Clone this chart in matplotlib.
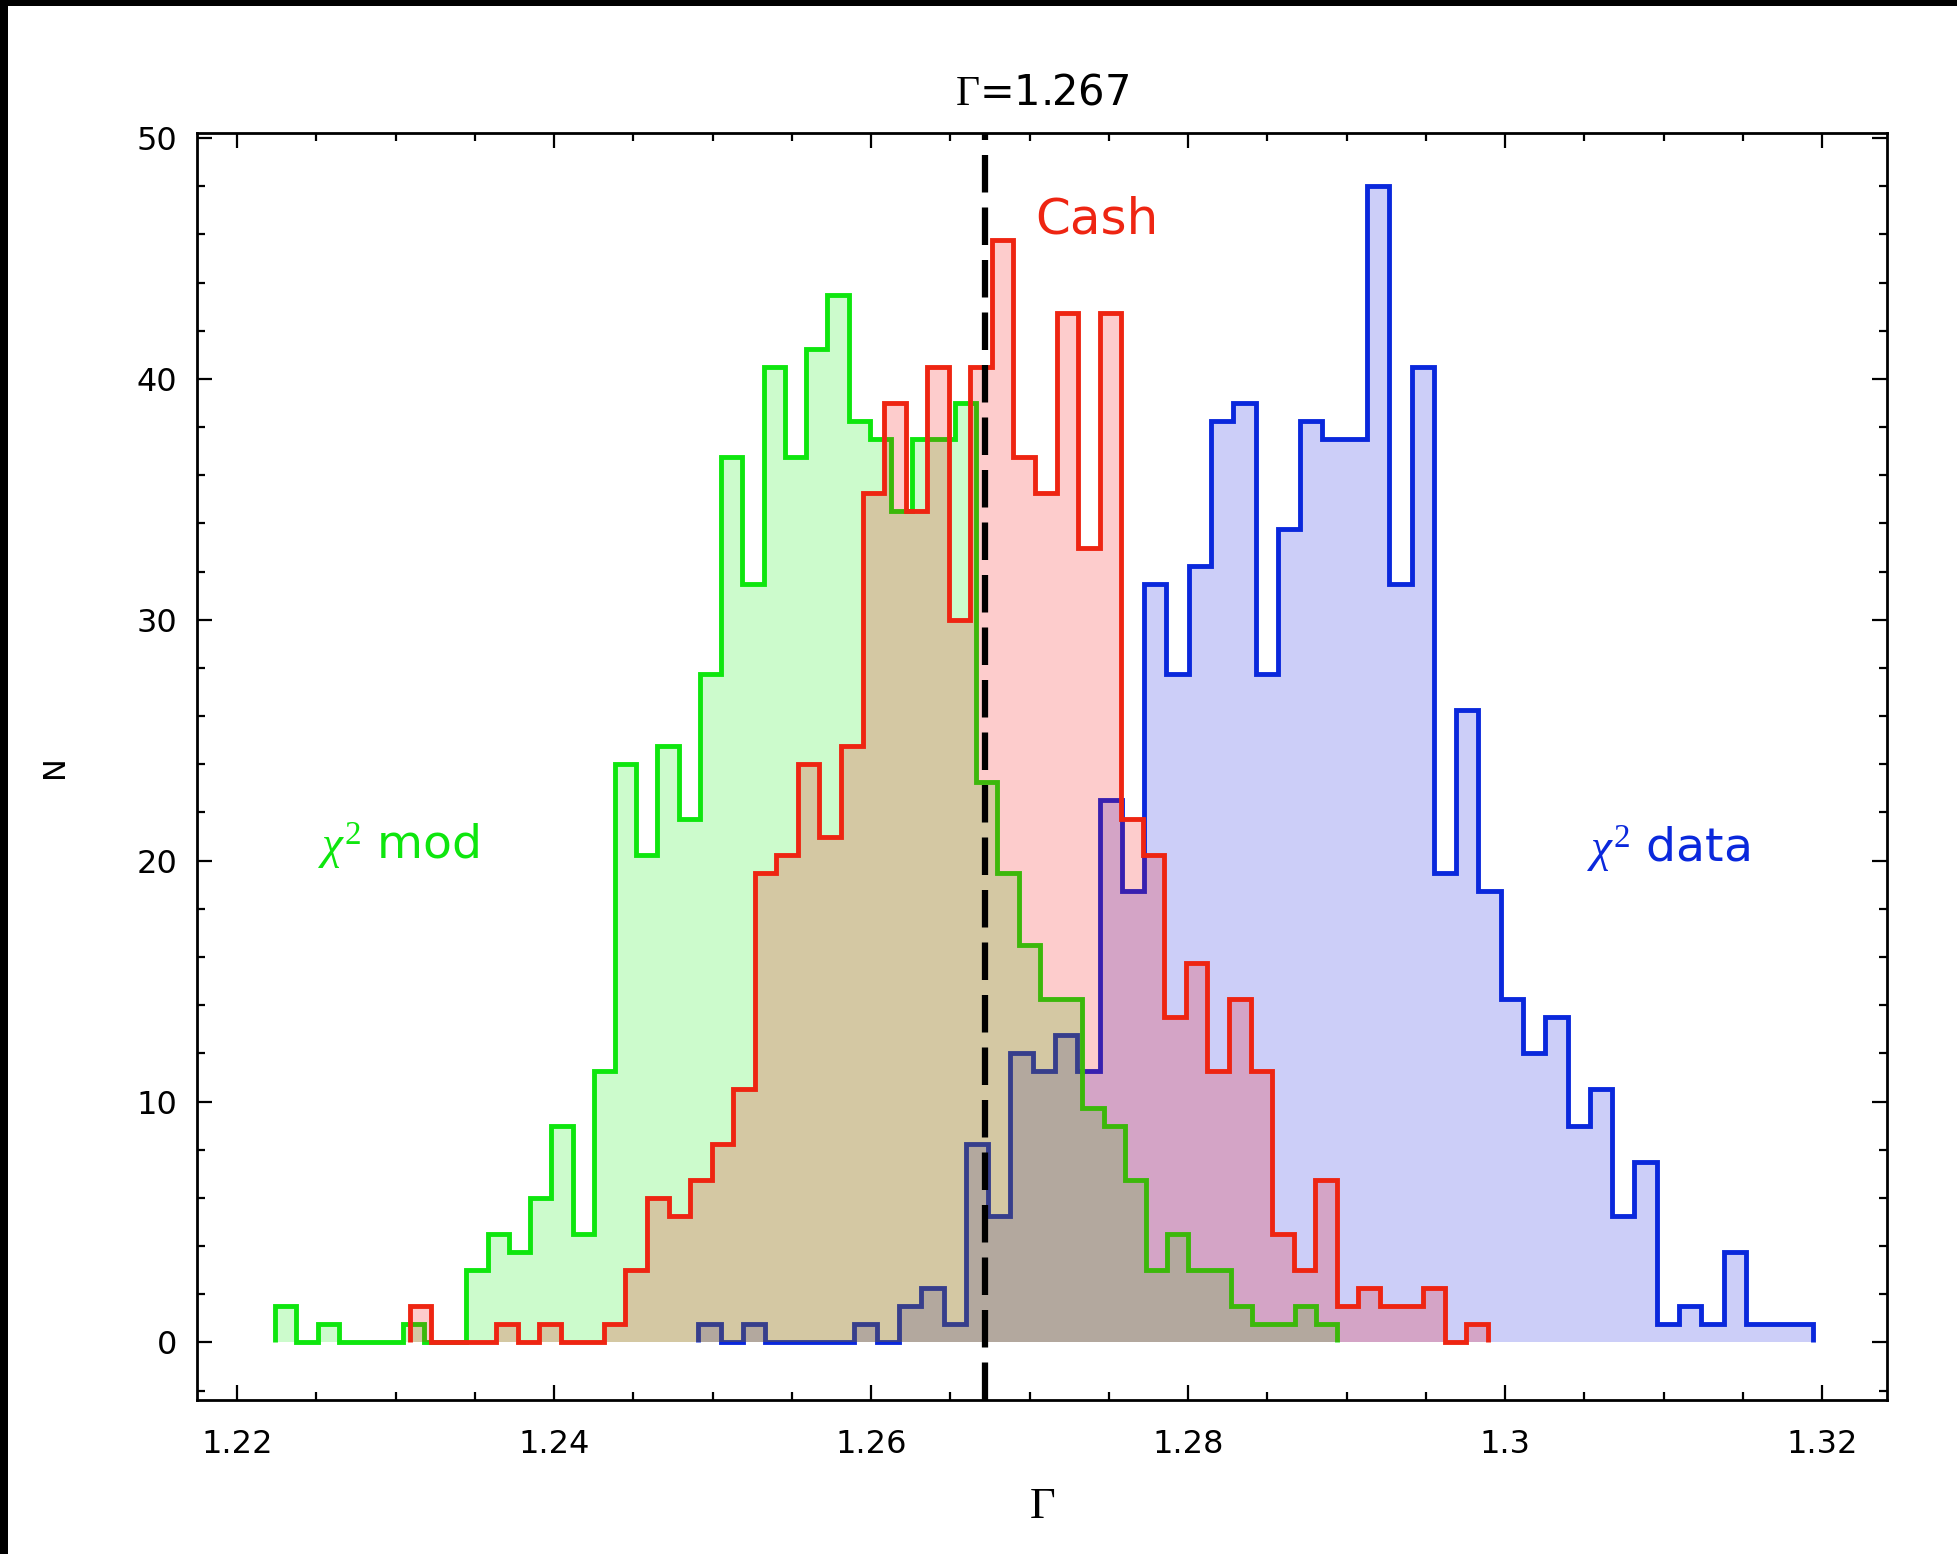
import numpy as np
import matplotlib
matplotlib.use("Agg")
import matplotlib.pyplot as plt
from matplotlib.patches import Rectangle
from matplotlib.ticker import FixedLocator, MultipleLocator

plt.rcParams['mathtext.fontset'] = 'custom'
plt.rcParams['mathtext.rm'] = 'Liberation Serif'
plt.rcParams['mathtext.it'] = 'Liberation Serif:italic'

# each histogram has 50 bins between its own min and max
green_range = (1.2224, 1.2894)
red_range = (1.2309, 1.2989)
blue_range = (1.2491, 1.3194)

green_counts = [1.5, 0, 0.75, 0, 0, 0, 0.75, 0, 0, 3.0,
                4.5, 3.75, 6.0, 9.0, 4.5, 11.25, 24.0, 20.25, 24.75, 21.75,
                27.75, 36.75, 31.5, 40.5, 36.75, 41.25, 43.5, 38.25, 37.5, 34.5,
                37.5, 37.5, 39.0, 23.25, 19.5, 16.5, 14.25, 14.25, 9.75, 9.0,
                6.75, 3.0, 4.5, 3.0, 3.0, 1.5, 0.75, 0.75, 1.5, 0.75]

red_counts = [1.5, 0, 0, 0, 0.75, 0, 0.75, 0, 0, 0.75,
              3.0, 6.0, 5.25, 6.75, 8.25, 10.5, 19.5, 20.25, 24.0, 21.0,
              24.75, 35.25, 39.0, 34.5, 40.5, 30.0, 40.5, 45.75, 36.75, 35.25,
              42.75, 33.0, 42.75, 21.75, 20.25, 13.5, 15.75, 11.25, 14.25, 11.25,
              4.5, 3.0, 6.75, 1.5, 2.25, 1.5, 1.5, 2.25, 0, 0.75]

blue_counts = [0.75, 0, 0.75, 0, 0, 0, 0, 0.75, 0, 1.5,
               2.25, 0.75, 8.25, 5.25, 12.0, 11.25, 12.75, 11.25, 22.5, 18.75,
               31.5, 27.75, 32.25, 38.25, 39.0, 27.75, 33.75, 38.25, 37.5, 37.5,
               48.0, 31.5, 40.5, 19.5, 26.25, 18.75, 14.25, 12.0, 13.5, 9.0,
               10.5, 5.25, 7.5, 0.75, 1.5, 0.75, 3.75, 0.75, 0.75, 0.75]

gamma_best = 1.2672
x_ticks = [1.22, 1.24, 1.26, 1.28, 1.30, 1.32]
x_ticklabels = ["1.22", "1.24", "1.26", "1.28", "1.3", "1.32"]
y_ticks = [0, 10, 20, 30, 40, 50]
y_ticklabels = ["0", "10", "20", "30", "40", "50"]

GREEN = '#0ee60e'
RED = '#ee2512'
BLUE = '#0a28dc'

W, H = 1957, 1554
fig = plt.figure(figsize=(W / 100, H / 100), dpi=100)
fig.patch.set_facecolor('black')
# white page with a thin black frame on the top and left edge
fig.add_artist(Rectangle((8 / W, 0), 1, 1 - 6 / H, transform=fig.transFigure,
                         facecolor='white', edgecolor='none', zorder=-10))

ax = fig.add_axes([197 / W, 1 - 1400 / H, (1887 - 197) / W, (1400 - 132.7) / H])

# blue first, then green, then red on top (semi transparent fills)
layers = [(blue_counts, blue_range, BLUE, (0, 0.04, 0.88)),
          (green_counts, green_range, GREEN, (0, 0.92, 0)),
          (red_counts, red_range, RED, (0.96, 0, 0))]
z = 1
for counts, rng, line_c, fill_c in layers:
    edges = np.linspace(rng[0], rng[1], len(counts) + 1)
    ax.stairs(counts, edges, fill=True, color=fill_c, alpha=0.2,
              linewidth=0, zorder=z)
    st = ax.stairs(counts, edges, baseline=0, color=line_c, linewidth=3.5,
                   zorder=z + 0.5)
    st.set_joinstyle('miter')
    z += 1

ax.set_xlim(1.21747, 1.32409)
ax.set_ylim(-2.39, 50.22)

ax.plot([gamma_best, gamma_best], [-2.39, 50.22], color='black', linewidth=4.5,
        linestyle=(0, (6.0, 2.4)), zorder=10, solid_capstyle='butt')

ax.xaxis.set_major_locator(FixedLocator(x_ticks))
ax.set_xticklabels(x_ticklabels)
ax.xaxis.set_minor_locator(MultipleLocator(0.005))
ax.yaxis.set_major_locator(FixedLocator(y_ticks))
ax.set_yticklabels(y_ticklabels)
ax.yaxis.set_minor_locator(MultipleLocator(2))

ax.tick_params(which='both', direction='in', top=True, right=True, width=1.6)
ax.tick_params(which='major', length=11)
ax.tick_params(which='minor', length=6)
ax.tick_params(axis='x', labelsize=23, pad=21)
ax.tick_params(axis='y', labelsize=23, pad=14)
for sp in ax.spines.values():
    sp.set_linewidth(2.0)

ax.set_title(r'$\Gamma$=1.267', fontsize=30, pad=20)
ax.set_xlabel(r'$\Gamma$', fontsize=32)
ax.xaxis.set_label_coords(0.5, -0.066)
ax.set_ylabel('N', fontsize=22)
ax.yaxis.set_label_coords(-0.076, 0.5)

ax.text(1.27034, 46.04, 'Cash', color=RED, fontsize=36, ha='left', va='baseline', zorder=12)
ax.text(1.22512, 20.06, r'$\chi^2$ mod', color=GREEN, fontsize=34, ha='left', va='baseline', zorder=12)
ax.text(1.30514, 19.93, r'$\chi^2$ data', color=BLUE, fontsize=34, ha='left', va='baseline', zorder=12)

fig.savefig('out.png', dpi=100, facecolor=fig.get_facecolor())
